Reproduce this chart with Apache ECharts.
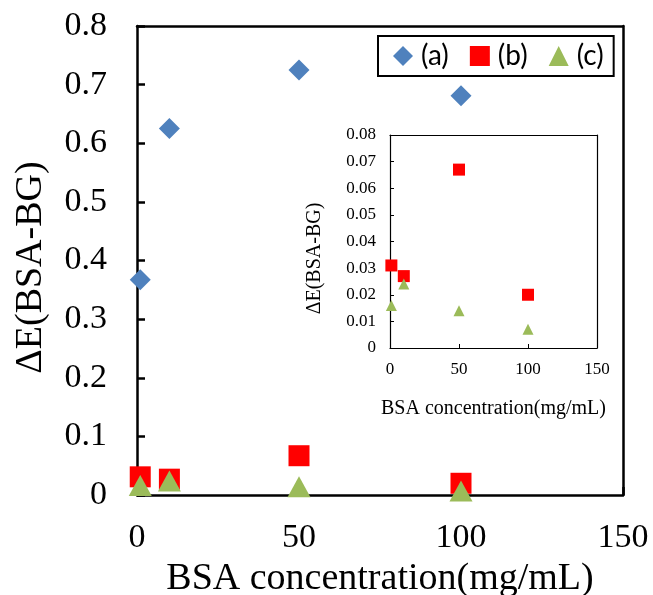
<!DOCTYPE html>
<html><head><meta charset="utf-8">
<script src="https://cdn.jsdelivr.net/npm/echarts@6/dist/echarts.min.js"></script>
<style>html,body{margin:0;padding:0;background:#fff}#c{width:653px;height:595px}</style>
</head><body><div id="c"></div>
<script>
const xValues = [1, 10, 50, 100];
const seriesA = [0.367, 0.625, 0.725, 0.681];
const seriesB = [0.031, 0.027, 0.067, 0.020];
const seriesC = [0.016, 0.024, 0.014, 0.007];
const names = ['(a)', '(b)', '(c)'];
const colors = ['#4F81BD', '#FF0000', '#9BBB59'];
const xTitle = 'BSA concentration(mg/mL)';
const yTitle = 'ΔE(BSA-BG)';

const pts = v => xValues.map((x, i) => [x, v[i]]);
const serif = 'Liberation Serif';
const diamond = 'path://M0,-1L1,0L0,1L-1,0Z';
const tri = 'path://M0,-1L1,1L-1,1Z';
const frameAxis = (g, pos) => ({gridIndex: g, type: 'value', position: pos, min: 0, max: 1,
  axisLine: {show: true, onZero: false, lineStyle: {color: '#000', width: g === 0 ? 2.5 : 1.2}},
  axisTick: {show: false}, axisLabel: {show: false}, splitLine: {show: false}, z: g === 0 ? 1 : 6});

const chart = echarts.init(document.getElementById('c'));
chart.setOption({
  animation: false,
  grid: [
    {left: 137, top: 26, right: 30, bottom: 100, outerBoundsMode: 'none', containLabel: false},
    {left: 390, top: 135, width: 207, height: 213, show: true, borderWidth: 0, backgroundColor: '#fff', z: 5, outerBoundsMode: 'none', containLabel: false}
  ],
  legend: {
    left: 378, top: 36,
    borderColor: '#000', borderWidth: 2, padding: [6, 10, 6, 15],
    itemGap: 21, itemWidth: 20, itemHeight: 20,
    textStyle: {fontFamily: 'Lato', fontSize: 28, color: '#000', padding: [0, 0, 0, 3]},
    data: [
      {name: names[0], icon: diamond},
      {name: names[1], icon: 'rect'},
      {name: names[2], icon: tri}
    ]
  },
  xAxis: [
    {gridIndex: 0, type: 'value', min: 0, max: 150, interval: 50,
     name: xTitle, nameLocation: 'middle', nameGap: 62,
     nameTextStyle: {fontFamily: serif, fontSize: 38, color: '#000'},
     axisLine: {onZero: false, lineStyle: {color: '#000', width: 2.5}},
     axisTick: {inside: true, length: 8, lineStyle: {color: '#000', width: 2.5}},
     axisLabel: {margin: 26, fontFamily: serif, fontSize: 34, color: '#000'},
     splitLine: {show: false}},
    {gridIndex: 1, type: 'value', min: 0, max: 150, interval: 50,
     name: xTitle, nameLocation: 'middle', nameGap: 51,
     nameTextStyle: {fontFamily: serif, fontSize: 20, color: '#000'},
     axisLine: {onZero: false, lineStyle: {color: '#000', width: 1.2}},
     axisTick: {inside: true, length: 4, lineStyle: {color: '#000'}},
     axisLabel: {margin: 13, fontFamily: serif, fontSize: 17, color: '#000'},
     splitLine: {show: false}, z: 6},
    frameAxis(0, 'top'),
    frameAxis(1, 'top')
  ],
  yAxis: [
    {gridIndex: 0, type: 'value', min: 0, max: 0.8, interval: 0.1,
     name: yTitle, nameLocation: 'middle', nameGap: 87,
     nameTextStyle: {fontFamily: serif, fontSize: 38, color: '#000', padding: [0, 14, 0, 0]},
     axisLine: {onZero: false, lineStyle: {color: '#000', width: 2.5}},
     axisTick: {inside: true, length: 8, lineStyle: {color: '#000', width: 2.5}},
     axisLabel: {margin: 30, fontFamily: serif, fontSize: 34, color: '#000'},
     splitLine: {show: false}},
    {gridIndex: 1, type: 'value', min: 0, max: 0.08, interval: 0.01,
     name: yTitle, nameLocation: 'middle', nameGap: 65,
     nameTextStyle: {fontFamily: serif, fontSize: 20, color: '#000', padding: [0, 34, 0, 0]},
     axisLine: {onZero: false, lineStyle: {color: '#000', width: 1.2}},
     axisTick: {inside: true, length: 4, lineStyle: {color: '#000'}},
     axisLabel: {margin: 14, fontFamily: serif, fontSize: 17, color: '#000'},
     splitLine: {show: false}, z: 6},
    frameAxis(0, 'right'),
    frameAxis(1, 'right')
  ],
  series: [
    {name: names[0], type: 'scatter', xAxisIndex: 0, yAxisIndex: 0, data: pts(seriesA), symbol: diamond, symbolSize: 21, itemStyle: {color: colors[0], opacity: 1}},
    {name: names[1], type: 'scatter', xAxisIndex: 0, yAxisIndex: 0, data: pts(seriesB), symbol: 'rect', symbolSize: 21, itemStyle: {color: colors[1], opacity: 1}},
    {name: names[2], type: 'scatter', xAxisIndex: 0, yAxisIndex: 0, data: pts(seriesC), symbol: tri, symbolSize: [23, 21], itemStyle: {color: colors[2], opacity: 1}, z: 3},
    {name: names[1], type: 'scatter', xAxisIndex: 1, yAxisIndex: 1, data: pts(seriesB), symbol: 'rect', symbolSize: 12, itemStyle: {color: colors[1], opacity: 1}, z: 7},
    {name: names[2], type: 'scatter', xAxisIndex: 1, yAxisIndex: 1, data: pts(seriesC), symbol: tri, symbolSize: 11, itemStyle: {color: colors[2], opacity: 1}, z: 8}
  ]
});
</script></body></html>
